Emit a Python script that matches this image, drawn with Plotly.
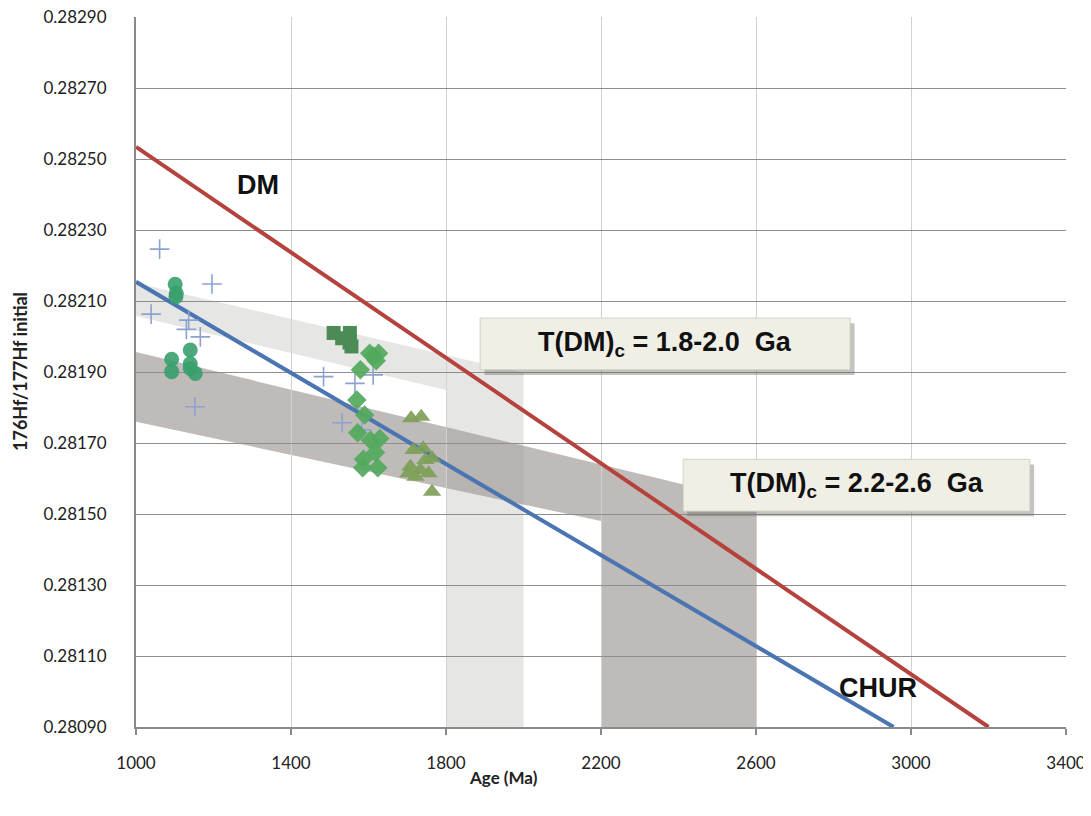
import plotly.graph_objects as go

# ---------------- data ----------------
x_range = [1000, 3400]
y_range = [0.28090, 0.28290]
x_ticks = [1000, 1400, 1800, 2200, 2600, 3000, 3400]
y_ticks = [0.28090, 0.28110, 0.28130, 0.28150, 0.28170, 0.28190,
           0.28210, 0.28230, 0.28250, 0.28270, 0.28290]

# reference evolution lines
dm_age = [1000, 3200]
dm_hf = [0.282534, 0.280900]
chur_age = [1000, 2955]
chur_hf = [0.282154, 0.280900]

# model-age bands
light_band_age = [1000, 2000, 2000, 1800, 1800, 1000]
light_band_hf = [0.282151, 0.281897, 0.280900, 0.280900, 0.281849, 0.282058]
dark_band_age = [1000, 2600, 2600, 2200, 2200, 1000]
dark_band_hf = [0.281956, 0.281534, 0.280900, 0.280900, 0.281480, 0.281760]

# samples
cross_age = [1061, 1196, 1039, 1130, 1136, 1166, 1152, 1484, 1565, 1612, 1532, 1583]
cross_hf = [0.282246, 0.282148, 0.282063, 0.282020, 0.282046, 0.281999, 0.281802,
            0.281887, 0.281868, 0.281892, 0.281757, 0.281737]

circle_age = [1101, 1104, 1103, 1140, 1092, 1140, 1092, 1153, 1140]
circle_hf = [0.282147, 0.282122, 0.282112, 0.281962, 0.281936, 0.281923,
             0.281901, 0.281896, 0.281910]

square_age = [1510, 1552, 1532, 1551, 1556]
square_hf = [0.282010, 0.282010, 0.281995, 0.281983, 0.281972]

diamond_age = [1603, 1626, 1620, 1612, 1579, 1570, 1590, 1572, 1605, 1629,
               1618, 1587, 1585, 1624]
diamond_hf = [0.281953, 0.281953, 0.281932, 0.281945, 0.281906, 0.281821,
              0.281779, 0.281729, 0.281708, 0.281713, 0.281673, 0.281654,
              0.281630, 0.281630]

triangle_age = [1710, 1736, 1716, 1741, 1764, 1708, 1734, 1755, 1721, 1764,
                1703, 1747]
triangle_hf = [0.281770, 0.281774, 0.281680, 0.281685, 0.281657, 0.281633,
               0.281624, 0.281615, 0.281605, 0.281563, 0.281615, 0.281652]

box_labels = ["T(DM)<sub>c</sub> = 1.8-2.0  Ga", "T(DM)<sub>c</sub> = 2.2-2.6  Ga"]
box_left_age = [1888, 2412]
box_right_age = [2843, 3307]
box_top_hf = [0.282052, 0.281654]
box_bottom_hf = [0.281906, 0.281508]

line_labels = ["DM", "CHUR"]
line_label_age = [1316, 2916]
line_label_hf = [0.282427, 0.281010]

# ---------------- figure ----------------
fig = go.Figure()


def path_of(xs, ys):
    parts = [("M" if i == 0 else "L") + f"{x},{y}" for i, (x, y) in enumerate(zip(xs, ys))]
    return " ".join(parts) + " Z"


fig.add_shape(type="path", path=path_of(dark_band_age, dark_band_hf), xref="x", yref="y",
              fillcolor="rgba(150,146,142,0.62)", line=dict(width=0), layer="below")
fig.add_shape(type="path", path=path_of(light_band_age, light_band_hf), xref="x", yref="y",
              fillcolor="rgba(160,160,150,0.26)", line=dict(width=0), layer="below")

fig.add_trace(go.Scatter(x=dm_age, y=dm_hf, mode="lines",
                         line=dict(color="#b5423c", width=4), showlegend=False))
fig.add_trace(go.Scatter(x=chur_age, y=chur_hf, mode="lines",
                         line=dict(color="#4a74b2", width=4), showlegend=False))

fig.add_trace(go.Scatter(x=cross_age, y=cross_hf, mode="markers",
                         marker=dict(symbol="cross-thin", size=14,
                                     line=dict(color="#8da2d0", width=1.6)),
                         showlegend=False))
fig.add_trace(go.Scatter(x=circle_age, y=circle_hf, mode="markers",
                         marker=dict(symbol="circle", size=15, color="#37a06d",
                                     opacity=0.9, line=dict(width=0)),
                         showlegend=False))
fig.add_trace(go.Scatter(x=square_age, y=square_hf, mode="markers",
                         marker=dict(symbol="square", size=14, color="#4b8c56",
                                     line=dict(width=0)),
                         showlegend=False))
fig.add_trace(go.Scatter(x=diamond_age, y=diamond_hf, mode="markers",
                         marker=dict(symbol="diamond", size=15, color="#52a95c",
                                     opacity=0.92, line=dict(width=0)),
                         showlegend=False))
fig.add_trace(go.Scatter(x=triangle_age, y=triangle_hf, mode="markers",
                         marker=dict(symbol="triangle-up", size=16, color="#7e9f58",
                                     opacity=0.92, line=dict(width=0)),
                         showlegend=False))

# label boxes with soft shadow
for x0, x1, y1, y0 in zip(box_left_age, box_right_age, box_top_hf, box_bottom_hf):
    dx = (x1 - x0) * 0.012
    dy = (y1 - y0) * 0.10
    fig.add_shape(type="rect", xref="x", yref="y", x0=x0 + dx, x1=x1 + dx,
                  y0=y0 - dy, y1=y1 - dy, fillcolor="rgba(105,105,95,0.40)",
                  line=dict(width=0), layer="above")
    fig.add_shape(type="rect", xref="x", yref="y", x0=x0, x1=x1, y0=y0, y1=y1,
                  fillcolor="#f0efe6", line=dict(color="rgba(200,200,190,0.8)", width=1),
                  layer="above")

annotations = []
for lab, xa, ya in zip(line_labels, line_label_age, line_label_hf):
    annotations.append(dict(x=xa, y=ya, xref="x", yref="y", text="<b>" + lab + "</b>",
                            showarrow=False,
                            font=dict(family="Liberation Sans", size=27, color="#111111")))

for lab, x0, x1, y1, y0 in zip(box_labels, box_left_age, box_right_age, box_top_hf,
                               box_bottom_hf):
    annotations.append(dict(x=(x0 + x1) / 2, y=(y0 + y1) / 2, xref="x", yref="y",
                            text="<b>" + lab + "</b>", showarrow=False,
                            font=dict(family="Liberation Sans", size=27, color="#111111")))

annotations.append(dict(x=0.395, y=0, xref="paper", yref="paper", yanchor="middle",
                        yshift=-50, text="<b>Age (Ma)</b>", showarrow=False,
                        font=dict(family="Lato", size=17, color="#222222")))
annotations.append(dict(x=0, y=0.5, xref="paper", yref="paper", xanchor="center",
                        xshift=-116, text="<b>176Hf/177Hf initial</b>", textangle=-90,
                        showarrow=False,
                        font=dict(family="Lato", size=18, color="#222222")))

# The page body has an 8px margin, so the figure is offset by 8px inside the window.
fig.update_layout(
    width=1083, height=800,
    margin=dict(l=128, r=25, t=9, b=81, autoexpand=False),
    paper_bgcolor="white", plot_bgcolor="white",
    showlegend=False,
    annotations=annotations,
    font=dict(family="Lato", size=16, color="#222222"),
)
fig.update_xaxes(range=x_range, tickvals=x_ticks, showgrid=True, gridcolor="#d2d2d2",
                 gridwidth=1, showline=True, linecolor="#8a8a8a", linewidth=2,
                 ticks="outside", ticklen=6, tickcolor="#8a8a8a", tickwidth=1.5,
                 ticklabelstandoff=14, zeroline=False, automargin=False,
                 ticklabeloverflow="allow",
                 tickfont=dict(family="Lato", size=17, color="#222222"))
fig.update_yaxes(range=y_range, tickvals=y_ticks, tickformat=".5f", showgrid=True,
                 gridcolor="#8e8e8e", gridwidth=1.3, showline=True, linecolor="#8a8a8a",
                 linewidth=2, ticks="", ticklabelstandoff=24, zeroline=False,
                 automargin=False, ticklabeloverflow="allow",
                 tickfont=dict(family="Lato", size=17, color="#222222"))

fig.write_html("out.html")
